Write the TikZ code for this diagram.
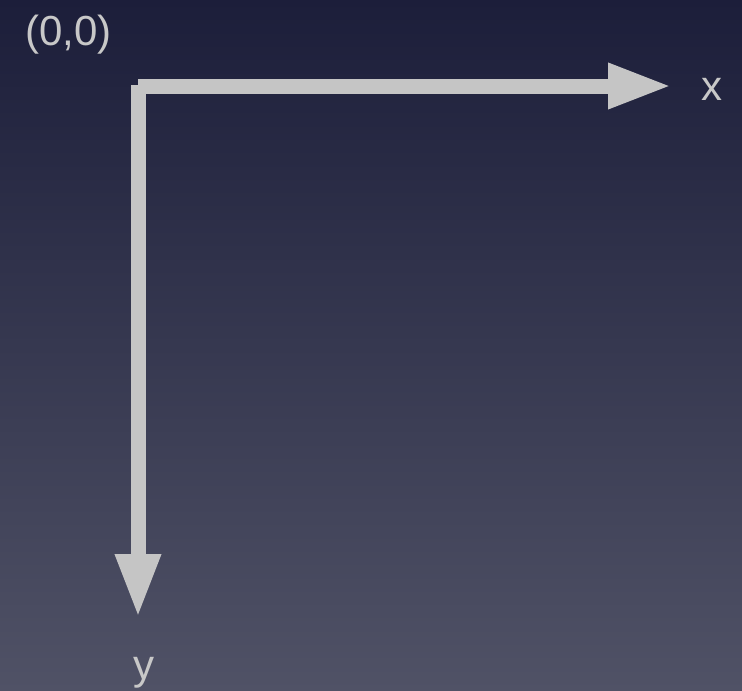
\documentclass[tikz,border=0pt]{standalone}
\usepackage{fontspec}
\setmainfont{Liberation Sans}
\usetikzlibrary{arrows.meta}
\definecolor{bgtop}{RGB}{28,30,58}
\definecolor{bgbot}{RGB}{80,82,102}
\definecolor{axis}{RGB}{197,197,197}
\definecolor{lbl}{RGB}{200,200,200}
\begin{document}
\begin{tikzpicture}[x=1pt,y=-1pt,
  axisline/.style={draw=axis,line width=15pt,-{Triangle[length=64pt,width=42pt]}},
  lab/.style={inner sep=0pt,anchor=base west,text=lbl,font=\fontsize{42}{42}\selectfont}]
\useasboundingbox (0,0) rectangle (742,691);
\shade[top color=bgtop,bottom color=bgbot] (0,0) rectangle (742,691);
\coordinate (o) at (138,86);
\coordinate (xe) at (672,86);
\coordinate (ye) at (138,618);
\draw[axisline] (o) -- (xe);
\draw[axisline] (138,85) -- (ye);
\node[lab] (orig) at (25,45) {(0,0)};
\node[lab] (xl) at (701,100) {x};
\node[lab] (yl) at (133,679) {y};
\end{tikzpicture}
\end{document}
